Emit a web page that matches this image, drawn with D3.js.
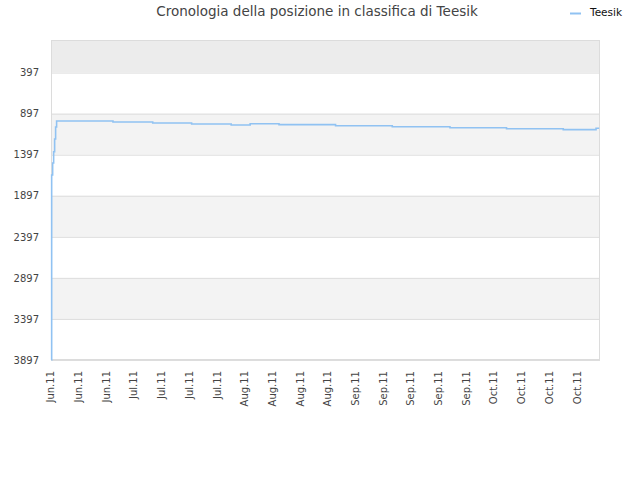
<!DOCTYPE html>
<html>
<head>
<meta charset="utf-8">
<script src="https://cdn.jsdelivr.net/npm/d3@7"></script>
<style>
  body { margin: 0; background: #fff; }
  text { font-family: "DejaVu Sans", Verdana, sans-serif; }
</style>
</head>
<body>
<svg id="chart" width="640" height="480"></svg>
<script>
// posizione in classifica (step changes)
const dates = [
  "2011-06-16T07:00", "2011-06-16T08:00", "2011-06-16T14:00", "2011-06-16T20:00",
  "2011-06-17T02:00", "2011-06-17T08:00", "2011-06-17T14:00", "2011-07-01T20:00",
  "2011-07-11T21:00", "2011-07-21T17:00", "2011-07-31T17:00", "2011-08-05T12:00",
  "2011-08-12T19:00", "2011-08-27T02:00", "2011-09-10T10:00", "2011-09-25T00:00",
  "2011-10-09T07:00", "2011-10-23T15:00", "2011-10-31T22:00", "2011-11-01T17:00"
]
const ranks = [
  3897, 1644, 1498, 1360,
  1205, 1060, 986, 999,
  1011, 1023, 1035, 1019,
  1031, 1045, 1056, 1068,
  1080, 1092, 1075, 1075
]
const yTicks = [397, 897, 1397, 1897, 2397, 2897, 3397, 3897]
const xTicks = [
  "2011-06-16", "2011-06-23", "2011-06-30", "2011-07-07", "2011-07-14",
  "2011-07-21", "2011-07-28", "2011-08-04", "2011-08-11", "2011-08-18",
  "2011-08-25", "2011-09-01", "2011-09-08", "2011-09-15", "2011-09-22",
  "2011-09-29", "2011-10-06", "2011-10-13", "2011-10-20", "2011-10-27"
]
const xRange = ["2011-06-16T04:00", "2011-11-01T22:00"]
const seriesName = "Teesik"
const title = "Cronologia della posizione in classifica di " + seriesName

const parse = d3.timeParse("%Y-%m-%dT%H:%M")
const parseDay = d3.timeParse("%Y-%m-%d")
const data = dates.map((d, i) => ({date: parse(d), rank: ranks[i]}))

const svg = d3.select("#chart")
const mLeft = 51, mTop = 40, mRight = 600, mBottom = 360

const x = d3.scaleTime()
  .domain(xRange.map(parse))
  .range([mLeft, mRight])
const y = d3.scaleLinear()
  .domain([0, 3897])
  .range([mTop, mBottom])

// bande alternate
const bands = [0].concat(yTicks)
for (let i = 0; i < bands.length - 1; i++) {
  let fill = i == 0 ? "#ececec" : (i % 2 == 0 ? "#f3f3f3" : "#ffffff")
  svg.append("rect")
    .attr("x", mLeft)
    .attr("y", y(bands[i]))
    .attr("width", mRight - mLeft)
    .attr("height", y(bands[i + 1]) - y(bands[i]))
    .attr("fill", fill)
}

// griglia
svg.append("g")
  .attr("transform", `translate(${mLeft},0)`)
  .call(d3.axisLeft(y).tickValues(yTicks).tickSize(-(mRight - mLeft)).tickFormat(""))
  .call(g => g.select(".domain").remove())
  .call(g => g.selectAll("line").attr("stroke", "#dddddd"))

// bordo
svg.append("rect")
  .attr("x", mLeft + 0.5).attr("y", mTop + 0.5)
  .attr("width", mRight - mLeft - 1).attr("height", mBottom - mTop - 1)
  .attr("fill", "none").attr("stroke", "#dcdcdc")

// asse y
svg.append("g")
  .attr("transform", `translate(${mLeft},0)`)
  .call(d3.axisLeft(y).tickValues(yTicks).tickSize(0).tickPadding(12).tickFormat(d3.format("d")))
  .call(g => g.select(".domain").remove())
  .call(g => g.selectAll("text")
    .attr("font-size", "10px").attr("fill", "#444"))

// asse x
svg.append("g")
  .attr("transform", `translate(0,${mBottom})`)
  .call(d3.axisBottom(x).tickValues(xTicks.map(parseDay))
    .tickSize(0).tickFormat(d3.timeFormat("%b.%y")))
  .call(g => g.select(".domain").remove())
  .call(g => g.selectAll("text")
    .attr("font-size", "10px").attr("fill", "#444")
    .attr("text-anchor", "end")
    .attr("transform", "rotate(-90)")
    .attr("x", -11).attr("y", 0).attr("dy", "0.35em"))

// linea
const line = d3.line()
  .x(d => x(d.date))
  .y(d => y(d.rank))
  .curve(d3.curveStepAfter)

svg.append("path")
  .datum(data)
  .attr("fill", "none")
  .attr("stroke", "#90c2f2")
  .attr("stroke-width", 1.6)
  .attr("d", line)

// titolo
svg.append("text")
  .attr("x", 317).attr("y", 16)
  .attr("text-anchor", "middle")
  .attr("font-size", "13.5px")
  .attr("fill", "#444")
  .text(title)

// legenda
svg.append("line")
  .attr("x1", 570).attr("x2", 581)
  .attr("y1", 13.5).attr("y2", 13.5)
  .attr("stroke", "#90c2f2").attr("stroke-width", 2)
svg.append("text")
  .attr("x", 590).attr("y", 16)
  .attr("font-size", "10.5px")
  .attr("fill", "#111")
  .text(seriesName)
</script>
</body>
</html>
